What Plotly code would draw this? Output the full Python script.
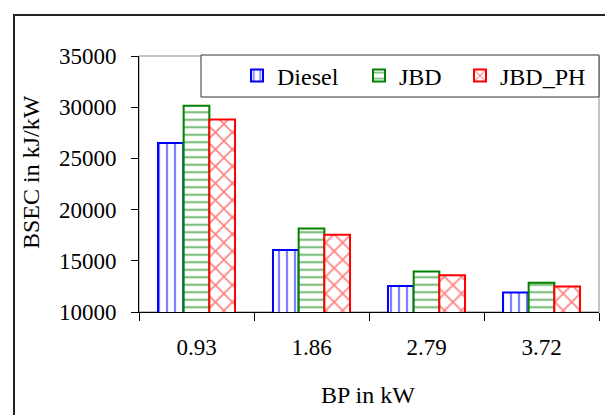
import plotly.graph_objects as go

categories = ["0.93", "1.86", "2.79", "3.72"]
diesel = [26500, 16050, 12550, 11900]
jbd = [30150, 18150, 13950, 12850]
jbd_ph = [28800, 17550, 13600, 12500]
y_ticks = [10000, 15000, 20000, 25000, 30000, 35000]
y_tick_labels = [str(v) for v in y_ticks]

W, H = 605, 415
L, R, T, B = 139, 6, 56, 103
pw, ph = W - L - R, H - T - B

def px_x(p):
    return (p - L) / pw

def px_y(p):
    return (H - B - p) / ph

FONT = "Liberation Serif"

fig = go.Figure()
series = [
    ("Diesel", diesel, "#0000FF", "|", 8, 0.28, "legend", 258),
    ("JBD", jbd, "#008000", "-", 7.5, 0.3, "legend2", 380),
    ("JBD_PH", jbd_ph, "#FF0000", "x", 12, 0.25, "legend3", 481),
]
legends = {}
for name, vals, col, shp, sz, sol, lg, sym_x in series:
    fig.add_trace(go.Bar(
        x=categories, y=vals, name=name, legend=lg,
        marker=dict(
            color="white",
            line=dict(color=col, width=2),
            pattern=dict(shape=shp, fgcolor=col, bgcolor="white", size=sz, solidity=sol, fillmode="overlay"),
        ),
    ))
    legends[lg] = dict(
        orientation="h",
        x=px_x(sym_x - 21), y=px_y(76), xanchor="left", yanchor="middle",
        borderwidth=0, bgcolor="rgba(0,0,0,0)",
        font=dict(family=FONT, size=24, color="black"),
        itemwidth=30,
    )

fig.update_layout(
    width=W, height=H,
    margin=dict(l=L, r=R, t=T, b=B, autoexpand=False),
    paper_bgcolor="white", plot_bgcolor="white",
    barmode="group", bargap=0.33, bargroupgap=0,
    font=dict(family=FONT, size=22, color="black"),
    showlegend=True,
    **legends,
    xaxis=dict(
        type="category", showline=True, linecolor="black", linewidth=1,
        ticks="outside", ticklen=8, tickcolor="black", tickson="boundaries",
        showgrid=False, ticklabelstandoff=14, tickfont=dict(size=23),
    ),
    yaxis=dict(
        range=[10000, 35000], tickvals=y_ticks, ticktext=y_tick_labels,
        showline=True, linecolor="black", linewidth=1,
        ticks="outside", ticklen=7, tickcolor="black", showgrid=False,
        ticklabelstandoff=10, tickfont=dict(size=23), zeroline=False,
    ),
    shapes=[
        dict(type="rect", xref="paper", yref="paper", x0=0, x1=1, y0=0, y1=1,
             line=dict(color="#888888", width=1), layer="below"),
        dict(type="rect", xref="paper", yref="paper", x0=px_x(14), x1=px_x(640), y0=px_y(460), y1=px_y(15),
             line=dict(color="#222222", width=2), layer="below"),
        dict(type="rect", xref="paper", yref="paper", x0=px_x(201), x1=px_x(599), y0=px_y(97), y1=px_y(55),
             line=dict(color="#333333", width=1), fillcolor="white", layer="above"),
    ],
    annotations=[
        dict(text="BP in kW", xref="paper", yref="paper", x=px_x(368), y=px_y(395),
             showarrow=False, font=dict(size=24), xanchor="center", yanchor="middle"),
        dict(text="BSEC in kJ/kW", xref="paper", yref="paper", x=px_x(31), y=px_y(172),
             showarrow=False, textangle=-90, font=dict(size=24), xanchor="center", yanchor="middle"),
    ],
)

fig.write_html("out.html", config={"displayModeBar": False},
               post_script="document.body.style.margin='0';document.body.style.overflow='hidden';")
